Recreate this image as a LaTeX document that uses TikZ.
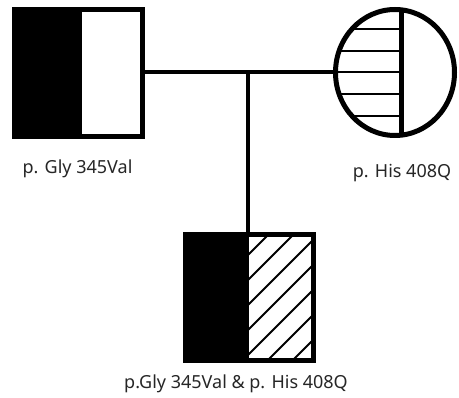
\documentclass[tikz,border=0pt]{standalone}
\usepackage{fontspec}
\setmainfont{Noto Sans}
\usetikzlibrary{shapes.geometric}
\begin{document}
\begin{tikzpicture}[x=1pt,y=-1pt,
  outline/.style={draw=black,line width=5pt,inner sep=0pt,outer sep=0pt},
  link/.style={draw=black,line width=4pt},
  hatch/.style={draw=black,line width=2pt},
  lbl/.style={font=\fontsize{18}{20}\selectfont,text=black!85,anchor=base,inner sep=0pt}]
\useasboundingbox (0,0) rectangle (459,398);
\clip (0,0) rectangle (459,398);
% father fill
\fill[black] (14.5,9.5) rectangle (82,136.5);
\node[outline,rectangle,minimum width=128pt,minimum height=127pt] (father) at (78.5,73) {};
% mother hatching
\begin{scope}
\clip (395,72.5) ellipse [x radius=59.5,y radius=63];
\foreach \yy in {29,51,72,94,116} \draw[hatch] (330,\yy) -- (401,\yy);
\end{scope}
\node[outline,ellipse,minimum width=119pt,minimum height=126pt] (mother) at (395,72.5) {};
\begin{scope}
\clip (395,72.5) ellipse [x radius=59.5,y radius=63];
\draw[black,line width=5pt] (401,0) -- (401,140);
\end{scope}
% child fill and hatching
\fill[black] (185.5,234.5) rectangle (249,360.5);
\begin{scope}
\clip (249,234.5) rectangle (313.5,360.5);
\foreach \k in {-3,...,6} \draw[hatch] ({553+25*\k-380},380) -- ({553+25*\k-200},200);
\end{scope}
\node[outline,rectangle,minimum width=128pt,minimum height=126pt] (child) at (249.5,297.5) {};
% connectors
\coordinate (junction) at (248,72);
\draw[link] (father.east |- junction) -- (mother.west |- junction);
\draw[link] (junction) -- (junction |- child.north);
% labels
\node[lbl] (lf) at (77.5,174) {p. Gly 345Val};
\node[lbl] (lm) at (402,178) {p. His 408Q};
\node[lbl] (lc) at (236,389) {p.Gly 345Val \& p. His 408Q};
\end{tikzpicture}
\end{document}
